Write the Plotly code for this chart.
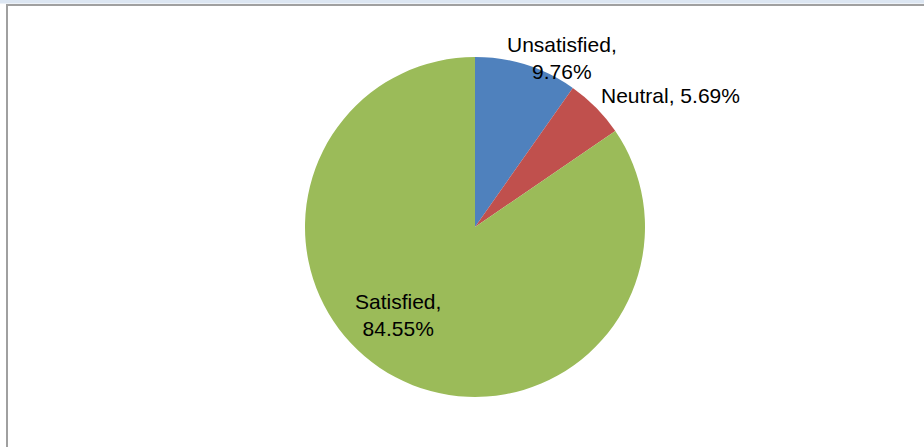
import plotly.graph_objects as go

categories = ["Unsatisfied", "Neutral", "Satisfied"]
values = [9.76, 5.69, 84.55]
colors = ["#4F81BD", "#C0504D", "#9BBB59"]

W, H = 924, 447

def px(x):
    return x / W

def py(y):
    return 1 - y / H

fig = go.Figure()
fig.add_trace(go.Pie(
    labels=categories,
    values=values,
    sort=False,
    direction="clockwise",
    rotation=0,
    marker=dict(colors=colors, line=dict(width=0)),
    textinfo="none",
    hoverinfo="label+percent",
    showlegend=False,
    domain=dict(x=[px(305), px(645)], y=[py(397), py(57)]),
))

font = dict(family="Liberation Sans, Arial, sans-serif", size=21, color="#000000")
label_texts = [f"{categories[0]},<br>{values[0]:.2f}%",
               f"{categories[1]}, {values[1]:.2f}%",
               f"{categories[2]},<br>{values[2]:.2f}%"]
label_pos = [(562, 58), (670, 95), (398, 315)]
for t, (x, y) in zip(label_texts, label_pos):
    fig.add_annotation(x=px(x), y=py(y), xref="paper", yref="paper", text=t,
                       showarrow=False, font=font, align="center",
                       xanchor="center", yanchor="middle")

fig.update_layout(
    width=W, height=H,
    margin=dict(l=0, r=0, t=0, b=0),
    paper_bgcolor="white",
    plot_bgcolor="white",
    shapes=[
        dict(type="rect", xref="paper", yref="paper", x0=0, x1=1, y0=py(3.5), y1=1,
             fillcolor="#DCE6F2", line=dict(width=0), layer="below"),
        dict(type="line", xref="paper", yref="paper", x0=px(6), x1=1, y0=py(5), y1=py(5),
             line=dict(color="#A0A0A0", width=2)),
        dict(type="line", xref="paper", yref="paper", x0=px(7), x1=px(7), y0=0, y1=py(5),
             line=dict(color="#A0A0A0", width=2)),
    ],
)

fig.write_html("out.html", config={"displayModeBar": False},
               post_script="document.body.style.margin='0';document.body.style.overflow='hidden';")
